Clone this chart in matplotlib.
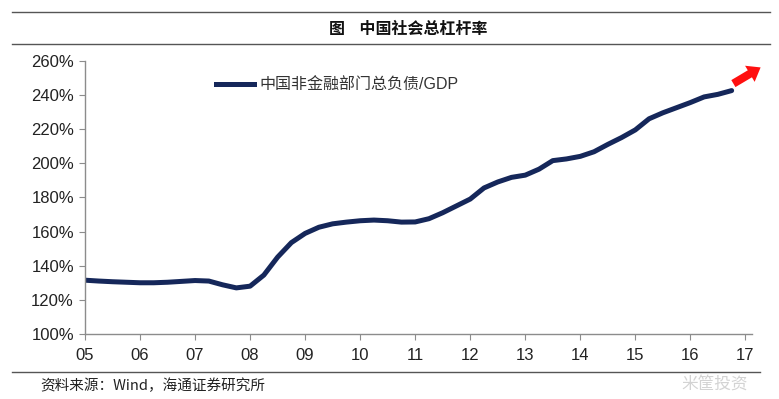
import numpy as np
import matplotlib
matplotlib.use("Agg")
import matplotlib.pyplot as plt
from matplotlib.lines import Line2D
from matplotlib.patches import FancyArrowPatch

plt.rcParams['font.family'] = ['Liberation Sans', 'Noto Sans CJK SC', 'DejaVu Sans']

# quarterly data, 2005Q1 .. 2016Q4
years = [2005 + i * 0.25 for i in range(48)]
leverage = [131.5, 131.0, 130.6, 130.3, 130.0, 130.0, 130.3, 130.8,
            131.3, 131.0, 128.8, 127.0, 128.0, 134.5, 145.0, 153.5,
            158.9, 162.5, 164.5, 165.5, 166.3, 166.7, 166.3, 165.5,
            165.6, 167.5, 171.0, 175.0, 179.0, 185.5, 189.0, 191.7,
            193.0, 196.5, 201.5, 202.5, 204.0, 206.7, 211.0, 215.0,
            219.5, 226.0, 229.5, 232.5, 235.5, 238.8, 240.3, 242.5]
tick_years = list(range(2005, 2018))
tick_labels = ['05', '06', '07', '08', '09', '10', '11', '12', '13', '14', '15', '16', '17']
y_ticks = [100, 120, 140, 160, 180, 200, 220, 240, 260]
series_name = '中国非金融部门总负债/GDP'
title = '图    中国社会总杠杆率'
source = '资料来源：Wind，海通证券研究所'

W, H = 779, 399
fig = plt.figure(figsize=(W / 100, H / 100), dpi=100)
ax = fig.add_axes([85 / W, 1 - 334 / H, (752 - 85) / W, (334 - 60.7) / H])

ax.plot(years, leverage, color='#15275a', lw=3.6, solid_capstyle='round',
        solid_joinstyle='round')
ax.set_xlim(2005, 2017.12)
ax.set_ylim(100, 260)
ax.set_xticks(tick_years)
ax.set_xticklabels(tick_labels)
ax.set_yticks(y_ticks)
ax.set_yticklabels([f'{v}%' for v in y_ticks])
for s in ['top', 'right']:
    ax.spines[s].set_visible(False)
for s in ['left', 'bottom']:
    ax.spines[s].set_color('#8c8c8c')
    ax.spines[s].set_linewidth(1.0)
ax.tick_params(axis='both', direction='out', length=4, color='#8c8c8c',
               labelsize=12, labelcolor='#222222')
ax.tick_params(axis='x', pad=6)
ax.tick_params(axis='y', pad=4)

leg_handle = Line2D([], [], color='#15275a', lw=3.6)
ax.legend([leg_handle], [series_name], loc='upper left', bbox_to_anchor=(0.175, 0.99),
          frameon=False, fontsize=11.5, handlelength=2.4, handletextpad=0.3,
          labelcolor='#333333')

# header / footer rules and texts
fig.add_artist(Line2D([12 / W, 770 / W], [1 - 12 / H, 1 - 12 / H], color='#555555', lw=1.0))
fig.add_artist(Line2D([12 / W, 770 / W], [1 - 44 / H, 1 - 44 / H], color='#555555', lw=1.0))
fig.add_artist(Line2D([12 / W, 760 / W], [1 - 372 / H, 1 - 372 / H], color='#555555', lw=1.0))
fig.text(408 / W, 1 - 29 / H, title, ha='center', va='center', fontsize=11.5,
         fontweight='bold', family=['Noto Sans CJK SC'], color='#111111')
fig.text(40 / W, 1 - 386 / H, source, ha='left', va='center', fontsize=10.5,
         family=['Noto Sans CJK SC', 'Liberation Sans'], color='#222222')
fig.text(715 / W, 1 - 384 / H, '米筐投资', ha='center', va='center', fontsize=12,
         family=['Noto Sans CJK SC'], color='#c8c8c8', alpha=0.8)

# red arrow (figure pixel coordinates, origin bottom-left)
arr = FancyArrowPatch((731, H - 85), (763, H - 66), transform=None,
                      arrowstyle='simple,head_width=1.5,head_length=1.0,tail_width=0.65',
                      mutation_scale=9, color='#ff1010', lw=0)
fig.add_artist(arr)

fig.savefig('out.png', dpi=100)
